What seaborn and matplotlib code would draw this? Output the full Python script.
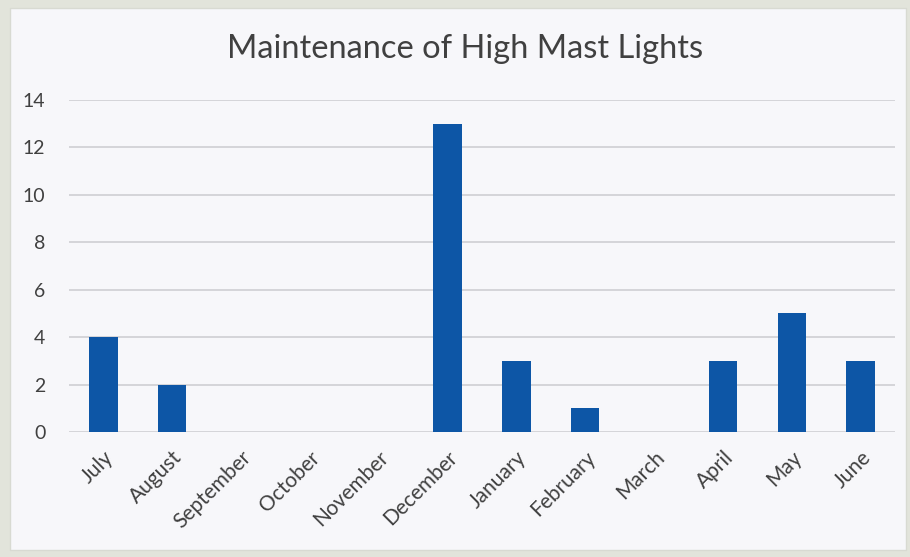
import matplotlib
matplotlib.use("Agg")
import matplotlib.pyplot as plt
from matplotlib.patches import Rectangle
import seaborn as sns
import pandas as pd

months = ["July", "August", "September", "October", "November", "December",
          "January", "February", "March", "April", "May", "June"]
counts = [4, 2, 0, 0, 0, 13, 3, 1, 0, 3, 5, 3]
y_ticks = [0, 2, 4, 6, 8, 10, 12, 14]
title = "Maintenance of High Mast Lights"

sns.set_theme(style="white")
plt.rcParams["font.family"] = ["Lato", "DejaVu Sans"]

W, H = 910, 557
fig = plt.figure(figsize=(W / 100, H / 100), dpi=100, facecolor="#e2e4db")
fig.patches.append(Rectangle((10 / W, 7 / H), (W - 14) / W, (H - 15) / H,
                             transform=fig.transFigure, facecolor="#f7f7fa",
                             edgecolor="#d8dad2", linewidth=1, zorder=-5))

ax = fig.add_axes([69 / W, (H - 432) / H, (895 - 69) / W, (432 - 100) / H])
ax.set_zorder(2)
ax.set_facecolor("none")

df = pd.DataFrame({"month": months, "count": counts})
sns.barplot(data=df, x="month", y="count", order=months, color="#0d56a6",
            saturation=1, width=0.41, linewidth=0, ax=ax, zorder=3)

ax.set_ylim(0, 14)
ax.set_yticks(y_ticks)
ax.set_xlim(-0.5, len(months) - 0.5)
ax.set_axisbelow(True)
ax.yaxis.grid(True, color="#d2d2d6", linewidth=1.3)
ax.xaxis.grid(False)
for s in ax.spines.values():
    s.set_visible(False)

ax.set_xlabel("")
ax.set_ylabel("")
ax.tick_params(axis="y", length=0, pad=17, labelsize=14, labelcolor="#404040")
ax.tick_params(axis="x", length=0, pad=11, labelsize=15, labelcolor="#404040",
               labelrotation=45)
plt.setp(ax.get_xticklabels(), ha="right", rotation_mode="anchor")

fig.text(465 / W, 1 - 49 / H, title, ha="center", va="center",
         fontsize=23.5, color="#404040")

fig.savefig("out.png", dpi=100, facecolor=fig.get_facecolor())
